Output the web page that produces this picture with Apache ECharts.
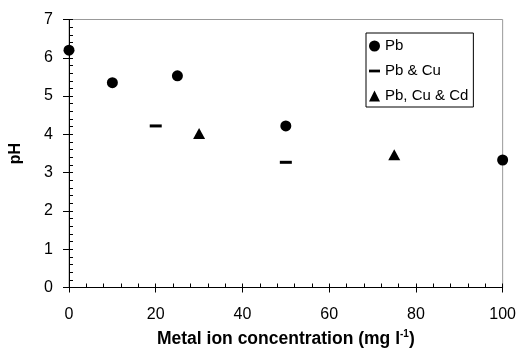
<!DOCTYPE html>
<html>
<head>
<meta charset="utf-8">
<script src="https://cdn.jsdelivr.net/npm/echarts@6/dist/echarts.min.js"></script>
<style>
html,body{margin:0;padding:0;background:#fff;}
#c{width:519px;height:353px;}
</style>
</head>
<body>
<div id="c"></div>
<script>
// Data
const pbX = [0, 10, 25, 50, 100];
const pbY = [6.2, 5.35, 5.53, 4.22, 3.33];
const pbCuX = [20, 50];
const pbCuY = [4.22, 3.27];
const pbCuCdX = [30, 75];
const pbCuCdY = [4.02, 3.47];
const seriesNames = ['Pb', 'Pb & Cu', 'Pb, Cu & Cd'];
const xTitle = 'Metal ion concentration (mg l';
const yTitle = 'pH';

const zip = (xs, ys) => xs.map((x, i) => [x, ys[i]]);
const font = 'Liberation Sans, Arial, sans-serif';

const chart = echarts.init(document.getElementById('c'), null, {renderer: 'canvas'});
chart.setOption({
  animation: false,
  backgroundColor: '#fff',
  grid: {left: 64.5, right: 15, top: 19.5, bottom: 63.7, show: true, borderColor: '#999', borderWidth: 1, backgroundColor: 'transparent'},
  legend: {
    orient: 'vertical', left: 366, top: 33,
    backgroundColor: '#fff', borderColor: '#000', borderWidth: 1, borderRadius: 0,
    padding: [5, 5, 3, 3], itemGap: 9, itemWidth: 11, itemHeight: 11, itemTextGap: 6,
    textStyle: {fontFamily: font, fontSize: 15, color: '#000', lineHeight: 16},
    data: [
      {name: seriesNames[0], icon: 'circle'},
      {name: seriesNames[1], icon: 'path://M0,0h12v3h-12z'},
      {name: seriesNames[2], icon: 'triangle'}
    ]
  },
  xAxis: [{
    type: 'value', min: 0, max: 100, interval: 20,
    name: xTitle + '{sup|-1}{n|)}', nameLocation: 'middle', nameGap: 42,
    nameTextStyle: {fontFamily: font, fontSize: 17.5, fontWeight: 'bold', color: '#000',
      rich: {sup: {fontFamily: font, fontSize: 10, fontWeight: 'bold', color: '#000', padding: [0, 0, 9, 0]},
             n: {fontFamily: font, fontSize: 17.5, fontWeight: 'bold', color: '#000'}}},
    axisLine: {show: true, lineStyle: {color: '#000', width: 1}},
    axisTick: {show: true, inside: false, length: 5, lineStyle: {color: '#000'}},
    axisLabel: {fontFamily: font, fontSize: 16, color: '#000', margin: 19},
    splitLine: {show: false}
  }, {
    type: 'value', min: 0, max: 100, interval: 20, position: 'bottom',
    axisLine: {show: false},
    axisTick: {show: true, inside: true, length: 4, lineStyle: {color: '#000'}},
    minorTick: {show: true, splitNumber: 5, length: 4, lineStyle: {color: '#000'}},
    axisLabel: {show: false}, splitLine: {show: false}
  }],
  yAxis: [{
    type: 'value', min: 0, max: 7, interval: 1,
    name: yTitle, nameLocation: 'middle', nameGap: 45,
    nameTextStyle: {fontFamily: font, fontSize: 16, fontWeight: 'bold', color: '#000'},
    axisLine: {show: true, lineStyle: {color: '#000', width: 1}},
    axisTick: {show: true, inside: false, length: 6, lineStyle: {color: '#000'}},
    axisLabel: {fontFamily: font, fontSize: 16, color: '#000', margin: 16},
    splitLine: {show: false}
  }, {
    type: 'value', min: 0, max: 7, interval: 1, position: 'left',
    axisLine: {show: false},
    axisTick: {show: true, inside: true, length: 4, lineStyle: {color: '#000'}},
    minorTick: {show: true, splitNumber: 5, length: 4, lineStyle: {color: '#000'}},
    axisLabel: {show: false}, splitLine: {show: false}
  }],
  series: [
    {name: seriesNames[0], type: 'scatter', xAxisIndex: 0, yAxisIndex: 0, symbol: 'circle', symbolSize: 11,
     itemStyle: {color: '#000', opacity: 1}, data: zip(pbX, pbY), clip: false},
    {name: seriesNames[1], type: 'scatter', xAxisIndex: 0, yAxisIndex: 0, symbol: 'rect', symbolSize: [12, 3],
     itemStyle: {color: '#000', opacity: 1}, data: zip(pbCuX, pbCuY), clip: false},
    {name: seriesNames[2], type: 'scatter', xAxisIndex: 0, yAxisIndex: 0, symbol: 'triangle', symbolSize: [12, 11],
     itemStyle: {color: '#000', opacity: 1}, data: zip(pbCuCdX, pbCuCdY), clip: false}
  ]
});
</script>
</body>
</html>
